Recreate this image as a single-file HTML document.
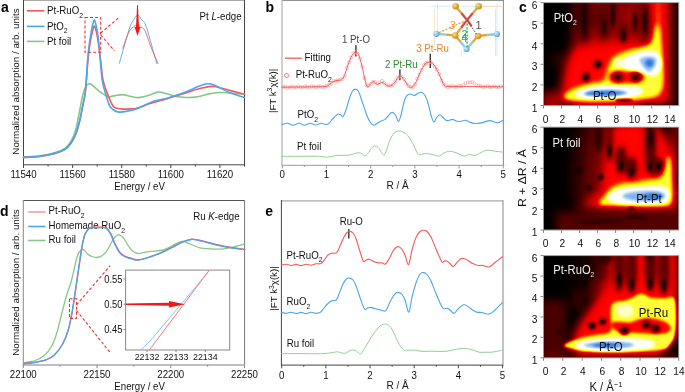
<!DOCTYPE html>
<html><head><meta charset="utf-8"><style>
html,body{margin:0;padding:0;background:#fff;}
body{width:685px;height:392px;overflow:hidden;position:relative;font-family:"Liberation Sans",sans-serif;}
canvas{position:absolute;}
svg{position:absolute;left:0;top:0;}
svg text{font-family:"Liberation Sans",sans-serif;}
</style></head><body>
<canvas id="h1" width="135" height="103" style="left:544px;top:3px;width:135px;height:103px;display:block;background:radial-gradient(ellipse 34% 9% at 47% 88%,#5a9ae6 0%,#fff 45%,#ff0 75%,rgba(255,0,0,0) 100%),radial-gradient(ellipse 16% 17% at 78% 58%,#7ab0ee 0%,#fff 45%,#ff0 78%,rgba(255,0,0,0) 100%),linear-gradient(to right,#000 0%,#200 12%,#b00 35%,#d00 75%,#e00 85%,#100 100%)"></canvas>
<canvas id="h2" width="135" height="103" style="left:544px;top:127px;width:135px;height:103px;display:block;background:radial-gradient(ellipse 28% 12% at 72% 67%,#5a9ae6 0%,#fff 45%,#ff0 75%,rgba(255,0,0,0) 100%),linear-gradient(to right,#000 0%,#100 20%,#600 40%,#d00 55%,#d00 85%,#400 100%)"></canvas>
<canvas id="h3" width="135" height="102" style="left:544px;top:256px;width:135px;height:102px;display:block;background:radial-gradient(ellipse 38% 9% at 45% 88%,#5a9ae6 0%,#fff 45%,#ff0 75%,rgba(255,0,0,0) 100%),radial-gradient(ellipse 24% 14% at 70% 52%,#ffffa0 0%,#ff0 70%,rgba(255,0,0,0) 100%),linear-gradient(to right,#000 0%,#200 25%,#c00 50%,#d00 100%)"></canvas>

<svg width="685" height="392" viewBox="0 0 685 392">
<g id="pa">
<line x1="23.5" y1="0.5" x2="244.5" y2="0.5" stroke="#aaa" stroke-width="1" />
<line x1="23.5" y1="0" x2="23.5" y2="165.3" stroke="#444" stroke-width="1" />
<line x1="244.5" y1="0" x2="244.5" y2="165.3" stroke="#444" stroke-width="1" />
<line x1="23" y1="164.8" x2="245" y2="164.8" stroke="#444" stroke-width="1" />
<line x1="23.5" y1="164.8" x2="23.5" y2="168" stroke="#444" stroke-width="1" />
<text x="0" y="0" transform="translate(23.5,178.4) scale(0.935,1)" font-size="10.37" text-anchor="middle" fill="#111" font-weight="normal"  >11540</text>
<line x1="48.056" y1="164.8" x2="48.056" y2="166.5" stroke="#444" stroke-width="1" />
<line x1="72.612" y1="164.8" x2="72.612" y2="168" stroke="#444" stroke-width="1" />
<text x="0" y="0" transform="translate(72.61,178.4) scale(0.935,1)" font-size="10.37" text-anchor="middle" fill="#111" font-weight="normal"  >11560</text>
<line x1="97.168" y1="164.8" x2="97.168" y2="166.5" stroke="#444" stroke-width="1" />
<line x1="121.724" y1="164.8" x2="121.724" y2="168" stroke="#444" stroke-width="1" />
<text x="0" y="0" transform="translate(121.72,178.4) scale(0.935,1)" font-size="10.37" text-anchor="middle" fill="#111" font-weight="normal"  >11580</text>
<line x1="146.28" y1="164.8" x2="146.28" y2="166.5" stroke="#444" stroke-width="1" />
<line x1="170.836" y1="164.8" x2="170.836" y2="168" stroke="#444" stroke-width="1" />
<text x="0" y="0" transform="translate(170.84,178.4) scale(0.935,1)" font-size="10.37" text-anchor="middle" fill="#111" font-weight="normal"  >11600</text>
<line x1="195.392" y1="164.8" x2="195.392" y2="166.5" stroke="#444" stroke-width="1" />
<line x1="219.948" y1="164.8" x2="219.948" y2="168" stroke="#444" stroke-width="1" />
<text x="0" y="0" transform="translate(219.95,178.4) scale(0.935,1)" font-size="10.37" text-anchor="middle" fill="#111" font-weight="normal"  >11620</text>
<line x1="244.504" y1="164.8" x2="244.504" y2="166.5" stroke="#444" stroke-width="1" />
<text x="0" y="0" transform="translate(139.6,189.7) scale(0.935,1)" font-size="10.37" text-anchor="middle" fill="#111" font-weight="normal"  >Energy / eV</text>
<text x="0" y="0" transform="translate(18.8,81.5) rotate(-90) scale(1,0.97)" font-size="9.8" text-anchor="middle" fill="#111" font-weight="normal"  >Normalized absorption / arb. units</text>
<text x="0" y="0" transform="translate(1,12.3) scale(0.935,1)" font-size="14.97" text-anchor="start" fill="#000" font-weight="bold"  >a</text>
<line x1="27" y1="10.8" x2="44.4" y2="10.8" stroke="#f55a5a" stroke-width="1.6" />
<text x="0" y="0" transform="translate(47,14) scale(0.935,1)" font-size="10.37" text-anchor="start" fill="#111" font-weight="normal"  >Pt-RuO<tspan font-size="7.27" dy="3.8">2</tspan></text>
<line x1="27" y1="26.4" x2="44.4" y2="26.4" stroke="#4aa6ee" stroke-width="1.6" />
<text x="0" y="0" transform="translate(47,29.6) scale(0.935,1)" font-size="10.37" text-anchor="start" fill="#111" font-weight="normal"  >PtO<tspan font-size="7.27" dy="3.8">2</tspan></text>
<line x1="27" y1="41.4" x2="44.4" y2="41.4" stroke="#86c886" stroke-width="1.6" />
<text x="0" y="0" transform="translate(47,44.6) scale(0.935,1)" font-size="10.37" text-anchor="start" fill="#111" font-weight="normal"  >Pt foil</text>
<text x="0" y="0" transform="translate(199.6,19.9) scale(0.935,1)" font-size="10.37" text-anchor="start" fill="#111" font-weight="normal"  >Pt <tspan font-style="italic">L</tspan>-edge</text>
<path d="M23.50,157.00 C26.25,156.82 34.70,156.63 40.00,155.90 C45.30,155.17 51.15,153.83 55.30,152.60 C59.45,151.37 62.35,150.27 64.90,148.50 C67.45,146.73 68.85,144.92 70.60,142.00 C72.35,139.08 74.13,135.00 75.40,131.00 C76.67,127.00 77.40,121.83 78.20,118.00 C79.00,114.17 79.48,111.67 80.20,108.00 C80.92,104.33 81.70,99.33 82.50,96.00 C83.30,92.67 84.17,89.92 85.00,88.00 C85.83,86.08 86.75,85.20 87.50,84.50 C88.25,83.80 88.75,83.75 89.50,83.80 C90.25,83.85 90.92,84.02 92.00,84.80 C93.08,85.58 94.50,87.22 96.00,88.50 C97.50,89.78 98.97,91.15 101.00,92.50 C103.03,93.85 105.87,96.08 108.20,96.60 C110.53,97.12 112.62,95.93 115.00,95.60 C117.38,95.27 120.00,94.50 122.50,94.60 C125.00,94.70 127.32,95.70 130.00,96.20 C132.68,96.70 135.60,97.70 138.60,97.60 C141.60,97.50 144.77,96.52 148.00,95.60 C151.23,94.68 155.17,92.50 158.00,92.10 C160.83,91.70 162.47,92.60 165.00,93.20 C167.53,93.80 170.20,95.03 173.20,95.70 C176.20,96.37 179.72,96.92 183.00,97.20 C186.28,97.48 190.07,97.57 192.90,97.40 C195.73,97.23 197.33,96.78 200.00,96.20 C202.67,95.62 206.23,94.48 208.90,93.90 C211.57,93.32 213.62,92.93 216.00,92.70 C218.38,92.47 220.53,92.42 223.20,92.50 C225.87,92.58 228.45,92.90 232.00,93.20 C235.55,93.50 242.42,94.12 244.50,94.30" fill="none" stroke="#86c886" stroke-width="1.6" stroke-linejoin="round" stroke-linecap="round" />
<path d="M23.50,157.60 C26.25,157.42 34.70,157.20 40.00,156.50 C45.30,155.80 51.15,154.55 55.30,153.40 C59.45,152.25 62.35,151.20 64.90,149.60 C67.45,148.00 68.85,146.18 70.60,143.80 C72.35,141.42 73.97,138.77 75.40,135.30 C76.83,131.83 78.03,127.55 79.20,123.00 C80.37,118.45 81.35,113.33 82.40,108.00 C83.45,102.67 84.60,98.67 85.50,91.00 C86.40,83.33 87.13,69.33 87.80,62.00 C88.47,54.67 88.93,51.17 89.50,47.00 C90.07,42.83 90.63,39.92 91.20,37.00 C91.77,34.08 92.38,31.33 92.90,29.50 C93.42,27.67 93.82,26.00 94.30,26.00 C94.78,26.00 95.25,27.50 95.80,29.50 C96.35,31.50 97.02,34.58 97.60,38.00 C98.18,41.42 98.77,46.00 99.30,50.00 C99.83,54.00 100.18,57.00 100.80,62.00 C101.42,67.00 102.00,74.98 103.00,80.00 C104.00,85.02 105.18,87.85 106.80,92.10 C108.42,96.35 111.00,102.80 112.70,105.50 C114.40,108.20 115.37,107.70 117.00,108.30 C118.63,108.90 120.33,109.00 122.50,109.10 C124.67,109.20 127.62,109.05 130.00,108.90 C132.38,108.75 133.58,109.06 136.80,108.20 C140.02,107.34 144.12,105.38 149.30,103.75 C154.48,102.12 161.83,100.19 167.90,98.40 C173.97,96.61 180.68,94.57 185.70,93.00 C190.72,91.43 193.68,90.10 198.00,89.00 C202.32,87.90 208.27,86.70 211.60,86.40 C214.93,86.10 215.47,86.68 218.00,87.20 C220.53,87.72 223.97,88.73 226.80,89.50 C229.63,90.27 232.05,91.00 235.00,91.80 C237.95,92.60 242.92,93.88 244.50,94.30" fill="none" stroke="#f55a5a" stroke-width="1.6" stroke-linejoin="round" stroke-linecap="round" />
<path d="M23.50,157.30 C26.25,157.13 34.70,157.00 40.00,156.30 C45.30,155.60 51.15,154.27 55.30,153.10 C59.45,151.93 62.35,150.90 64.90,149.30 C67.45,147.70 68.85,145.90 70.60,143.50 C72.35,141.10 73.97,138.40 75.40,134.90 C76.83,131.40 78.03,127.12 79.20,122.50 C80.37,117.88 81.35,112.62 82.40,107.20 C83.45,101.78 84.63,97.87 85.50,90.00 C86.37,82.13 86.98,67.50 87.60,60.00 C88.22,52.50 88.67,49.17 89.20,45.00 C89.73,40.83 90.23,38.33 90.80,35.00 C91.37,31.67 92.02,27.53 92.60,25.00 C93.18,22.47 93.73,19.80 94.30,19.80 C94.87,19.80 95.42,22.47 96.00,25.00 C96.58,27.53 97.27,31.33 97.80,35.00 C98.33,38.67 98.78,42.83 99.20,47.00 C99.62,51.17 99.80,54.50 100.30,60.00 C100.80,65.50 101.48,74.93 102.20,80.00 C102.92,85.07 103.45,86.30 104.60,90.40 C105.75,94.50 107.70,101.42 109.10,104.60 C110.50,107.78 111.37,108.25 113.00,109.50 C114.63,110.75 116.40,111.85 118.90,112.10 C121.40,112.35 124.72,111.65 128.00,111.00 C131.28,110.35 134.45,109.77 138.60,108.20 C142.75,106.63 148.02,103.32 152.90,101.60 C157.78,99.88 162.43,99.48 167.90,97.90 C173.37,96.32 180.68,94.00 185.70,92.10 C190.72,90.20 194.28,87.89 198.00,86.50 C201.72,85.11 205.33,84.00 208.00,83.75 C210.67,83.50 211.77,84.19 214.00,85.00 C216.23,85.81 218.40,87.18 221.40,88.60 C224.40,90.02 228.15,92.02 232.00,93.50 C235.85,94.98 242.42,96.83 244.50,97.50" fill="none" stroke="#4aa6ee" stroke-width="1.6" stroke-linejoin="round" stroke-linecap="round" />
<rect x="85" y="17.5" width="15.7" height="34.8" fill="none" stroke="#f03030" stroke-width="1.1" stroke-dasharray="3,2"/>
<line x1="100.7" y1="33" x2="119" y2="17.5" stroke="#f03030" stroke-width="1.1" stroke-dasharray="3,2"/>
<line x1="100.7" y1="35" x2="114.5" y2="50.7" stroke="#f03030" stroke-width="1.1" stroke-dasharray="3,2"/>
<path d="M119.30,63.40 C120.08,60.67 122.28,52.90 124.00,47.00 C125.72,41.10 128.07,32.42 129.60,28.00 C131.13,23.58 131.85,22.63 133.20,20.50 C134.55,18.37 136.32,15.37 137.70,15.20 C139.08,15.03 140.17,17.87 141.50,19.50 C142.83,21.13 144.12,21.08 145.70,25.00 C147.28,28.92 149.15,36.60 151.00,43.00 C152.85,49.40 155.83,60.00 156.80,63.40" fill="none" stroke="#4aa6ee" stroke-width="0.9" stroke-linejoin="round" stroke-linecap="round" />
<path d="M122.90,48.20 C123.50,46.50 125.23,41.12 126.50,38.00 C127.77,34.88 128.78,31.67 130.50,29.50 C132.22,27.33 135.13,25.42 136.80,25.00 C138.47,24.58 139.17,26.10 140.50,27.00 C141.83,27.90 143.05,27.07 144.80,30.40 C146.55,33.73 148.82,41.50 151.00,47.00 C153.18,52.50 156.75,60.67 157.90,63.40" fill="none" stroke="#f55a5a" stroke-width="0.9" stroke-linejoin="round" stroke-linecap="round" />
<path d="M137.1,5 L137.9,5 L139,27 L140.5,27 L137.5,35.7 L134.5,27 L136,27 Z" fill="#f01818"/>
</g>
<g id="pb">
<line x1="282" y1="0.4" x2="503.8" y2="0.4" stroke="#777" stroke-width="0.9" />
<line x1="282" y1="0" x2="282" y2="165.6" stroke="#bbb" stroke-width="1.4" />
<line x1="503.4" y1="0" x2="503.4" y2="165.8" stroke="#888" stroke-width="1" />
<line x1="281.5" y1="165.3" x2="504.3" y2="165.3" stroke="#999" stroke-width="1" />
<line x1="282.3" y1="165.3" x2="282.3" y2="168.5" stroke="#999" stroke-width="1" />
<text x="0" y="0" transform="translate(282.3,178.4) scale(0.935,1)" font-size="10.37" text-anchor="middle" fill="#111" font-weight="normal"  >0</text>
<line x1="304.40000000000003" y1="165.3" x2="304.40000000000003" y2="167" stroke="#999" stroke-width="1" />
<line x1="326.5" y1="165.3" x2="326.5" y2="168.5" stroke="#999" stroke-width="1" />
<text x="0" y="0" transform="translate(326.5,178.4) scale(0.935,1)" font-size="10.37" text-anchor="middle" fill="#111" font-weight="normal"  >1</text>
<line x1="348.6" y1="165.3" x2="348.6" y2="167" stroke="#999" stroke-width="1" />
<line x1="370.70000000000005" y1="165.3" x2="370.70000000000005" y2="168.5" stroke="#999" stroke-width="1" />
<text x="0" y="0" transform="translate(370.7,178.4) scale(0.935,1)" font-size="10.37" text-anchor="middle" fill="#111" font-weight="normal"  >2</text>
<line x1="392.8" y1="165.3" x2="392.8" y2="167" stroke="#999" stroke-width="1" />
<line x1="414.90000000000003" y1="165.3" x2="414.90000000000003" y2="168.5" stroke="#999" stroke-width="1" />
<text x="0" y="0" transform="translate(414.9,178.4) scale(0.935,1)" font-size="10.37" text-anchor="middle" fill="#111" font-weight="normal"  >3</text>
<line x1="437.0" y1="165.3" x2="437.0" y2="167" stroke="#999" stroke-width="1" />
<line x1="459.1" y1="165.3" x2="459.1" y2="168.5" stroke="#999" stroke-width="1" />
<text x="0" y="0" transform="translate(459.1,178.4) scale(0.935,1)" font-size="10.37" text-anchor="middle" fill="#111" font-weight="normal"  >4</text>
<line x1="481.20000000000005" y1="165.3" x2="481.20000000000005" y2="167" stroke="#999" stroke-width="1" />
<line x1="503.3" y1="165.3" x2="503.3" y2="168.5" stroke="#999" stroke-width="1" />
<text x="0" y="0" transform="translate(503.3,178.4) scale(0.935,1)" font-size="10.37" text-anchor="middle" fill="#111" font-weight="normal"  >5</text>
<text x="0" y="0" transform="translate(386.5,188.5) scale(0.935,1)" font-size="10.70" text-anchor="start" fill="#111" font-weight="normal"  >R / Å</text>
<text x="0" y="0" transform="translate(275.8,90.9) rotate(-90) scale(1,0.97)" font-size="9.7" text-anchor="middle" fill="#111" font-weight="normal"  >|FT k<tspan font-size="6.8" dy="-3.5">3</tspan><tspan dy="3.5">χ(k)|</tspan></text>
<text x="0" y="0" transform="translate(265.6,12) scale(0.935,1)" font-size="14.97" text-anchor="start" fill="#000" font-weight="bold"  >b</text>
<line x1="285" y1="58.2" x2="301.8" y2="58.2" stroke="#f55a5a" stroke-width="1.3" />
<text x="0" y="0" transform="translate(304.6,61.3) scale(0.935,1)" font-size="10.37" text-anchor="start" fill="#111" font-weight="normal"  >Fitting</text>
<circle cx="286.6" cy="75.5" r="2" fill="none" stroke="#f55a5a" stroke-width="0.8"/>
<text x="0" y="0" transform="translate(295.7,77.9) scale(0.935,1)" font-size="10.37" text-anchor="start" fill="#111" font-weight="normal"  >Pt-RuO<tspan font-size="7.27" dy="3.8">2</tspan></text>
<text x="0" y="0" transform="translate(297.5,117.7) scale(0.935,1)" font-size="10.37" text-anchor="start" fill="#111" font-weight="normal"  >PtO<tspan font-size="7.27" dy="3.8">2</tspan></text>
<text x="0" y="0" transform="translate(297.1,149.9) scale(0.935,1)" font-size="10.37" text-anchor="start" fill="#111" font-weight="normal"  >Pt foil</text>
<text x="0" y="0" transform="translate(356,42.9) scale(0.935,1)" font-size="10.37" text-anchor="middle" fill="#444" font-weight="normal"  >1 Pt-O</text>
<line x1="355.9" y1="45.2" x2="355.9" y2="56.4" stroke="#333" stroke-width="1.4" />
<text x="0" y="0" transform="translate(401.3,68.1) scale(0.935,1)" font-size="10.37" text-anchor="middle" fill="#2e8b2e" font-weight="normal"  >2 Pt-Ru</text>
<line x1="399.9" y1="69.4" x2="399.9" y2="80.2" stroke="#333" stroke-width="1.4" />
<text x="0" y="0" transform="translate(432.6,51.8) scale(0.935,1)" font-size="10.37" text-anchor="middle" fill="#f0882a" font-weight="normal"  >3 Pt-Ru</text>
<line x1="430.3" y1="53.7" x2="430.3" y2="68.1" stroke="#333" stroke-width="1.4" />
<g fill="none" stroke="#f6a0a0" stroke-width="0.7"><circle cx="283.0" cy="87.1" r="1.55"/><circle cx="285.2" cy="86.7" r="1.55"/><circle cx="287.4" cy="87.7" r="1.55"/><circle cx="289.6" cy="87.2" r="1.55"/><circle cx="291.8" cy="86.5" r="1.55"/><circle cx="294.0" cy="87.5" r="1.55"/><circle cx="296.2" cy="87.3" r="1.55"/><circle cx="298.4" cy="86.4" r="1.55"/><circle cx="300.6" cy="87.2" r="1.55"/><circle cx="302.8" cy="87.4" r="1.55"/><circle cx="305.0" cy="86.4" r="1.55"/><circle cx="307.2" cy="86.9" r="1.55"/><circle cx="309.4" cy="87.4" r="1.55"/><circle cx="311.6" cy="86.4" r="1.55"/><circle cx="313.8" cy="86.6" r="1.55"/><circle cx="316.0" cy="87.4" r="1.55"/><circle cx="318.2" cy="86.5" r="1.55"/><circle cx="320.4" cy="86.4" r="1.55"/><circle cx="322.6" cy="87.3" r="1.55"/><circle cx="324.8" cy="86.5" r="1.55"/><circle cx="327.0" cy="85.6" r="1.55"/><circle cx="329.2" cy="85.1" r="1.55"/><circle cx="331.4" cy="83.1" r="1.55"/><circle cx="333.6" cy="80.8" r="1.55"/><circle cx="335.8" cy="81.1" r="1.55"/><circle cx="338.0" cy="80.7" r="1.55"/><circle cx="340.2" cy="79.6" r="1.55"/><circle cx="342.4" cy="79.1" r="1.55"/><circle cx="344.6" cy="75.7" r="1.55"/><circle cx="346.8" cy="68.0" r="1.55"/><circle cx="349.0" cy="62.3" r="1.55"/><circle cx="351.2" cy="57.6" r="1.55"/><circle cx="353.4" cy="53.2" r="1.55"/><circle cx="355.6" cy="52.2" r="1.55"/><circle cx="357.8" cy="54.0" r="1.55"/><circle cx="360.0" cy="58.4" r="1.55"/><circle cx="362.2" cy="66.4" r="1.55"/><circle cx="364.4" cy="78.0" r="1.55"/><circle cx="366.6" cy="85.4" r="1.55"/><circle cx="368.8" cy="85.8" r="1.55"/><circle cx="371.0" cy="83.8" r="1.55"/><circle cx="373.2" cy="81.8" r="1.55"/><circle cx="375.4" cy="82.0" r="1.55"/><circle cx="377.6" cy="84.0" r="1.55"/><circle cx="379.8" cy="82.5" r="1.55"/><circle cx="382.0" cy="80.8" r="1.55"/><circle cx="384.2" cy="82.8" r="1.55"/><circle cx="386.4" cy="85.2" r="1.55"/><circle cx="388.6" cy="85.5" r="1.55"/><circle cx="390.8" cy="85.8" r="1.55"/><circle cx="393.0" cy="84.9" r="1.55"/><circle cx="395.2" cy="81.4" r="1.55"/><circle cx="397.4" cy="78.1" r="1.55"/><circle cx="399.6" cy="76.4" r="1.55"/><circle cx="401.8" cy="76.4" r="1.55"/><circle cx="404.0" cy="79.1" r="1.55"/><circle cx="406.2" cy="83.4" r="1.55"/><circle cx="408.4" cy="85.9" r="1.55"/><circle cx="410.6" cy="86.9" r="1.55"/><circle cx="412.8" cy="87.1" r="1.55"/><circle cx="415.0" cy="84.2" r="1.55"/><circle cx="417.2" cy="78.8" r="1.55"/><circle cx="419.4" cy="74.5" r="1.55"/><circle cx="421.6" cy="70.1" r="1.55"/><circle cx="423.8" cy="65.1" r="1.55"/><circle cx="426.0" cy="63.2" r="1.55"/><circle cx="428.2" cy="62.9" r="1.55"/><circle cx="430.4" cy="62.0" r="1.55"/><circle cx="432.6" cy="63.4" r="1.55"/><circle cx="434.8" cy="66.7" r="1.55"/><circle cx="437.0" cy="69.7" r="1.55"/><circle cx="439.2" cy="74.1" r="1.55"/><circle cx="441.4" cy="80.1" r="1.55"/><circle cx="443.6" cy="84.1" r="1.55"/><circle cx="445.8" cy="86.1" r="1.55"/><circle cx="448.0" cy="87.0" r="1.55"/><circle cx="450.2" cy="86.5" r="1.55"/><circle cx="452.4" cy="85.9" r="1.55"/><circle cx="454.6" cy="86.9" r="1.55"/><circle cx="456.8" cy="86.7" r="1.55"/><circle cx="459.0" cy="85.7" r="1.55"/><circle cx="461.2" cy="86.0" r="1.55"/><circle cx="463.4" cy="85.3" r="1.55"/><circle cx="465.6" cy="83.1" r="1.55"/><circle cx="467.8" cy="82.5" r="1.55"/><circle cx="470.0" cy="82.5" r="1.55"/><circle cx="472.2" cy="82.1" r="1.55"/><circle cx="474.4" cy="83.5" r="1.55"/><circle cx="476.6" cy="85.6" r="1.55"/><circle cx="478.8" cy="85.6" r="1.55"/><circle cx="481.0" cy="86.1" r="1.55"/><circle cx="483.2" cy="87.2" r="1.55"/><circle cx="485.4" cy="86.6" r="1.55"/><circle cx="487.6" cy="86.2" r="1.55"/><circle cx="489.8" cy="87.2" r="1.55"/><circle cx="492.0" cy="86.8" r="1.55"/><circle cx="494.2" cy="86.2" r="1.55"/><circle cx="496.4" cy="87.1" r="1.55"/><circle cx="498.6" cy="87.1" r="1.55"/><circle cx="500.8" cy="86.2" r="1.55"/></g>
<path d="M282.00,87.20 C285.00,87.17 294.50,87.07 300.00,87.00 C305.50,86.93 310.67,86.90 315.00,86.80 C319.33,86.70 323.50,86.87 326.00,86.40 C328.50,85.93 328.67,84.87 330.00,84.00 C331.33,83.13 332.67,81.80 334.00,81.20 C335.33,80.60 336.73,80.67 338.00,80.40 C339.27,80.13 340.52,80.42 341.60,79.60 C342.68,78.78 343.43,77.93 344.50,75.50 C345.57,73.07 346.75,68.33 348.00,65.00 C349.25,61.67 350.78,57.58 352.00,55.50 C353.22,53.42 354.22,52.67 355.30,52.50 C356.38,52.33 357.38,52.25 358.50,54.50 C359.62,56.75 360.92,61.75 362.00,66.00 C363.08,70.25 364.08,76.48 365.00,80.00 C365.92,83.52 366.67,86.35 367.50,87.10 C368.33,87.85 369.10,85.38 370.00,84.50 C370.90,83.62 371.98,82.05 372.90,81.80 C373.82,81.55 374.77,82.55 375.50,83.00 C376.23,83.45 376.55,84.47 377.30,84.50 C378.05,84.53 379.10,83.52 380.00,83.20 C380.90,82.88 381.70,82.33 382.70,82.60 C383.70,82.87 384.95,84.20 386.00,84.80 C387.05,85.40 388.00,86.13 389.00,86.20 C390.00,86.27 391.00,85.90 392.00,85.20 C393.00,84.50 393.68,83.58 395.00,82.00 C396.32,80.42 398.40,76.12 399.90,75.70 C401.40,75.28 402.65,77.87 404.00,79.50 C405.35,81.13 406.78,84.18 408.00,85.50 C409.22,86.82 410.13,87.65 411.30,87.40 C412.47,87.15 413.55,86.40 415.00,84.00 C416.45,81.60 418.33,76.33 420.00,73.00 C421.67,69.67 423.38,65.77 425.00,64.00 C426.62,62.23 428.20,62.23 429.70,62.40 C431.20,62.57 432.45,63.07 434.00,65.00 C435.55,66.93 437.25,70.58 439.00,74.00 C440.75,77.42 442.67,83.43 444.50,85.50 C446.33,87.57 445.75,86.22 450.00,86.40 C454.25,86.58 461.17,86.53 470.00,86.60 C478.83,86.67 497.50,86.77 503.00,86.80" fill="none" stroke="#f55a5a" stroke-width="1.0" stroke-linejoin="round" stroke-linecap="round" />
<path d="M282.00,124.70 C282.92,124.45 285.67,123.12 287.50,123.20 C289.33,123.28 291.08,125.18 293.00,125.20 C294.92,125.22 297.08,123.30 299.00,123.30 C300.92,123.30 302.67,125.22 304.50,125.20 C306.33,125.18 308.17,123.23 310.00,123.20 C311.83,123.17 313.67,125.00 315.50,125.00 C317.33,125.00 319.25,123.28 321.00,123.20 C322.75,123.12 324.67,124.47 326.00,124.50 C327.33,124.53 327.83,124.40 329.00,123.40 C330.17,122.40 331.53,120.03 333.00,118.50 C334.47,116.97 336.55,114.82 337.80,114.20 C339.05,113.58 339.63,114.43 340.50,114.80 C341.37,115.17 342.08,117.20 343.00,116.40 C343.92,115.60 344.92,113.07 346.00,110.00 C347.08,106.93 348.42,101.17 349.50,98.00 C350.58,94.83 351.53,92.48 352.50,91.00 C353.47,89.52 354.30,89.02 355.30,89.10 C356.30,89.18 357.38,89.52 358.50,91.50 C359.62,93.48 360.75,97.42 362.00,101.00 C363.25,104.58 364.67,109.50 366.00,113.00 C367.33,116.50 368.72,119.97 370.00,122.00 C371.28,124.03 372.53,124.95 373.70,125.20 C374.87,125.45 375.83,124.17 377.00,123.50 C378.17,122.83 379.35,121.88 380.70,121.20 C382.05,120.52 383.80,120.35 385.10,119.40 C386.40,118.45 387.33,116.67 388.50,115.50 C389.67,114.33 390.93,112.48 392.10,112.40 C393.27,112.32 394.45,113.48 395.50,115.00 C396.55,116.52 397.48,121.50 398.40,121.50 C399.32,121.50 400.07,118.25 401.00,115.00 C401.93,111.75 403.07,105.20 404.00,102.00 C404.93,98.80 405.58,97.13 406.60,95.80 C407.62,94.47 408.78,94.07 410.10,94.00 C411.42,93.93 413.18,95.52 414.50,95.40 C415.82,95.28 416.83,93.82 418.00,93.30 C419.17,92.78 420.33,91.93 421.50,92.30 C422.67,92.67 423.92,93.72 425.00,95.50 C426.08,97.28 427.00,99.75 428.00,103.00 C429.00,106.25 430.03,111.83 431.00,115.00 C431.97,118.17 432.80,121.67 433.80,122.00 C434.80,122.33 435.98,118.22 437.00,117.00 C438.02,115.78 438.90,114.62 439.90,114.70 C440.90,114.78 441.83,116.52 443.00,117.50 C444.17,118.48 445.37,120.28 446.90,120.60 C448.43,120.92 450.77,119.40 452.20,119.40 C453.63,119.40 454.33,120.25 455.50,120.60 C456.67,120.95 457.57,121.55 459.20,121.50 C460.83,121.45 463.50,120.18 465.30,120.30 C467.10,120.42 468.53,121.68 470.00,122.20 C471.47,122.72 472.25,123.28 474.10,123.40 C475.95,123.52 478.47,123.37 481.10,122.90 C483.73,122.43 487.27,120.60 489.90,120.60 C492.53,120.60 494.72,122.95 496.90,122.90 C499.08,122.85 501.98,120.73 503.00,120.30" fill="none" stroke="#4aa6ee" stroke-width="1.1" stroke-linejoin="round" stroke-linecap="round" />
<path d="M282.00,156.30 C285.00,156.30 294.50,156.32 300.00,156.30 C305.50,156.28 311.50,156.15 315.00,156.20 C318.50,156.25 318.95,156.43 321.00,156.60 C323.05,156.77 325.47,157.27 327.30,157.20 C329.13,157.13 330.25,156.50 332.00,156.20 C333.75,155.90 335.80,155.55 337.80,155.40 C339.80,155.25 341.97,155.37 344.00,155.30 C346.03,155.23 348.17,155.30 350.00,155.00 C351.83,154.70 353.53,153.87 355.00,153.50 C356.47,153.13 357.63,152.75 358.80,152.80 C359.97,152.85 360.97,153.28 362.00,153.80 C363.03,154.32 363.92,156.12 365.00,155.90 C366.08,155.68 367.33,153.88 368.50,152.50 C369.67,151.12 370.83,148.67 372.00,147.60 C373.17,146.53 374.33,145.95 375.50,146.10 C376.67,146.25 377.65,147.02 379.00,148.50 C380.35,149.98 382.35,154.75 383.60,155.00 C384.85,155.25 385.43,152.50 386.50,150.00 C387.57,147.50 388.75,142.83 390.00,140.00 C391.25,137.17 392.50,134.50 394.00,133.00 C395.50,131.50 397.33,131.07 399.00,131.00 C400.67,130.93 402.33,131.60 404.00,132.60 C405.67,133.60 407.33,134.77 409.00,137.00 C410.67,139.23 412.38,143.07 414.00,146.00 C415.62,148.93 416.93,153.35 418.70,154.60 C420.47,155.85 422.33,153.53 424.60,153.50 C426.87,153.47 429.93,153.97 432.30,154.40 C434.67,154.83 436.85,156.33 438.80,156.10 C440.75,155.87 442.17,153.80 444.00,153.00 C445.83,152.20 447.80,151.35 449.80,151.30 C451.80,151.25 453.63,151.90 456.00,152.70 C458.37,153.50 461.75,155.82 464.00,156.10 C466.25,156.38 467.67,154.50 469.50,154.40 C471.33,154.30 473.08,155.82 475.00,155.50 C476.92,155.18 479.00,153.38 481.00,152.50 C483.00,151.62 484.53,150.40 487.00,150.20 C489.47,150.00 493.13,150.97 495.80,151.30 C498.47,151.63 501.80,152.05 503.00,152.20" fill="none" stroke="#8fd08f" stroke-width="1.0" stroke-linejoin="round" stroke-linecap="round" />
</g>
<g id="pd">
<line x1="23.3" y1="200.5" x2="244.6" y2="200.5" stroke="#555" stroke-width="1" />
<line x1="23.3" y1="200" x2="23.3" y2="365.5" stroke="#888" stroke-width="1" />
<line x1="244.6" y1="200" x2="244.6" y2="365.5" stroke="#777" stroke-width="1" />
<line x1="23" y1="365" x2="245" y2="365" stroke="#aaa" stroke-width="1.3" />
<line x1="23.3" y1="365" x2="23.3" y2="368.2" stroke="#888" stroke-width="1" />
<text x="0" y="0" transform="translate(23.3,378.4) scale(0.935,1)" font-size="10.37" text-anchor="middle" fill="#111" font-weight="normal"  >22100</text>
<line x1="60.167500000000004" y1="365" x2="60.167500000000004" y2="366.7" stroke="#888" stroke-width="1" />
<line x1="97.035" y1="365" x2="97.035" y2="368.2" stroke="#888" stroke-width="1" />
<text x="0" y="0" transform="translate(97.03,378.4) scale(0.935,1)" font-size="10.37" text-anchor="middle" fill="#111" font-weight="normal"  >22150</text>
<line x1="133.9025" y1="365" x2="133.9025" y2="366.7" stroke="#888" stroke-width="1" />
<line x1="170.77" y1="365" x2="170.77" y2="368.2" stroke="#888" stroke-width="1" />
<text x="0" y="0" transform="translate(170.77,378.4) scale(0.935,1)" font-size="10.37" text-anchor="middle" fill="#111" font-weight="normal"  >22200</text>
<line x1="207.6375" y1="365" x2="207.6375" y2="366.7" stroke="#888" stroke-width="1" />
<line x1="244.505" y1="365" x2="244.505" y2="368.2" stroke="#888" stroke-width="1" />
<text x="0" y="0" transform="translate(244.5,378.4) scale(0.935,1)" font-size="10.37" text-anchor="middle" fill="#111" font-weight="normal"  >22250</text>
<text x="0" y="0" transform="translate(139.6,389.5) scale(0.935,1)" font-size="10.37" text-anchor="middle" fill="#111" font-weight="normal"  >Energy / eV</text>
<text x="0" y="0" transform="translate(18.8,282.6) rotate(-90) scale(1,0.97)" font-size="9.8" text-anchor="middle" fill="#111" font-weight="normal"  >Normalized absorption / arb. units</text>
<text x="0" y="0" transform="translate(0,215.6) scale(0.935,1)" font-size="14.97" text-anchor="start" fill="#000" font-weight="bold"  >d</text>
<line x1="28.2" y1="212" x2="45.6" y2="212" stroke="#ff9aa0" stroke-width="1.6" />
<text x="0" y="0" transform="translate(48.6,214.3) scale(0.935,1)" font-size="10.37" text-anchor="start" fill="#111" font-weight="normal"  >Pt-RuO<tspan font-size="7.27" dy="3.8">2</tspan></text>
<line x1="28.2" y1="226.5" x2="45.6" y2="226.5" stroke="#4aa6ee" stroke-width="1.6" />
<text x="0" y="0" transform="translate(48.6,228.9) scale(0.935,1)" font-size="10.37" text-anchor="start" fill="#111" font-weight="normal"  >Homemade RuO<tspan font-size="7.27" dy="3.8">2</tspan></text>
<line x1="28.2" y1="240.5" x2="45.6" y2="240.5" stroke="#86c886" stroke-width="1.6" />
<text x="0" y="0" transform="translate(48.6,243.2) scale(0.935,1)" font-size="10.37" text-anchor="start" fill="#111" font-weight="normal"  >Ru foil</text>
<text x="0" y="0" transform="translate(193.3,219.7) scale(0.935,1)" font-size="10.37" text-anchor="start" fill="#111" font-weight="normal"  >Ru <tspan font-style="italic">K</tspan>-edge</text>
<path d="M23.50,362.60 C25.42,362.25 31.55,361.70 35.00,360.50 C38.45,359.30 41.50,357.65 44.20,355.40 C46.90,353.15 49.10,350.73 51.20,347.00 C53.30,343.27 54.92,339.08 56.80,333.00 C58.68,326.92 60.80,317.00 62.50,310.50 C64.20,304.00 65.60,298.67 67.00,294.00 C68.40,289.33 69.73,286.50 70.90,282.50 C72.07,278.50 73.12,273.75 74.00,270.00 C74.88,266.25 75.47,262.73 76.20,260.00 C76.93,257.27 77.43,255.42 78.40,253.60 C79.37,251.78 80.90,249.53 82.00,249.10 C83.10,248.67 83.97,250.10 85.00,251.00 C86.03,251.90 87.03,253.58 88.20,254.50 C89.37,255.42 90.52,256.00 92.00,256.50 C93.48,257.00 95.43,257.62 97.10,257.50 C98.77,257.38 100.52,256.75 102.00,255.80 C103.48,254.85 104.67,253.52 106.00,251.80 C107.33,250.08 108.80,247.58 110.00,245.50 C111.20,243.42 112.12,240.92 113.20,239.30 C114.28,237.68 115.45,236.55 116.50,235.80 C117.55,235.05 118.33,234.43 119.50,234.80 C120.67,235.17 122.17,236.37 123.50,238.00 C124.83,239.63 126.08,242.53 127.50,244.60 C128.92,246.67 130.27,248.92 132.00,250.40 C133.73,251.88 135.90,253.17 137.90,253.50 C139.90,253.83 141.82,252.75 144.00,252.40 C146.18,252.05 147.78,251.80 151.00,251.40 C154.22,251.00 159.80,250.90 163.30,250.00 C166.80,249.10 168.93,247.45 172.00,246.00 C175.07,244.55 178.70,241.63 181.70,241.30 C184.70,240.97 186.93,242.90 190.00,244.00 C193.07,245.10 196.77,247.10 200.10,247.90 C203.43,248.70 206.50,248.58 210.00,248.80 C213.50,249.02 218.10,249.30 221.10,249.20 C224.10,249.10 225.67,248.65 228.00,248.20 C230.33,247.75 232.35,247.22 235.10,246.50 C237.85,245.78 242.93,244.33 244.50,243.90" fill="none" stroke="#86c886" stroke-width="1.3" stroke-linejoin="round" stroke-linecap="round" />
<path d="M23.80,363.40 C25.72,363.18 31.62,362.70 35.30,362.10 C38.98,361.50 42.73,360.98 45.90,359.80 C49.07,358.62 51.48,357.67 54.30,355.00 C57.12,352.33 60.45,348.00 62.80,343.80 C65.15,339.60 66.77,335.42 68.40,329.80 C70.03,324.18 71.20,318.05 72.60,310.10 C74.00,302.15 75.60,290.18 76.80,282.10 C78.00,274.02 78.88,267.68 79.80,261.60 C80.72,255.52 81.55,249.77 82.30,245.60 C83.05,241.43 83.72,238.77 84.30,236.60 C84.88,234.43 84.95,234.00 85.80,232.60 C86.65,231.20 88.05,229.08 89.40,228.20 C90.75,227.32 92.08,227.47 93.90,227.30 C95.72,227.13 98.23,227.12 100.30,227.20 C102.37,227.28 104.55,226.73 106.30,227.80 C108.05,228.87 109.30,230.87 110.80,233.60 C112.30,236.33 113.65,240.93 115.30,244.20 C116.95,247.47 118.92,251.12 120.70,253.20 C122.48,255.28 124.40,255.90 126.00,256.70 C127.60,257.50 128.42,257.48 130.30,258.00 C132.18,258.52 134.38,259.88 137.30,259.80 C140.22,259.72 143.72,258.75 147.80,257.50 C151.88,256.25 157.72,254.03 161.80,252.30 C165.88,250.57 168.78,248.85 172.30,247.10 C175.82,245.35 179.68,243.13 182.90,241.80 C186.12,240.47 188.70,239.33 191.60,239.10 C194.50,238.87 197.38,239.82 200.30,240.40 C203.22,240.98 206.10,241.85 209.10,242.60 C212.10,243.35 215.08,244.17 218.30,244.90 C221.52,245.63 225.40,246.45 228.40,247.00 C231.40,247.55 233.57,247.82 236.30,248.20 C239.03,248.58 243.38,249.12 244.80,249.30" fill="none" stroke="#f55a5a" stroke-width="1.3" stroke-linejoin="round" stroke-linecap="round" />
<path d="M23.50,363.80 C25.42,363.58 31.32,363.10 35.00,362.50 C38.68,361.90 42.43,361.38 45.60,360.20 C48.77,359.02 51.18,358.07 54.00,355.40 C56.82,352.73 60.15,348.40 62.50,344.20 C64.85,340.00 66.47,335.82 68.10,330.20 C69.73,324.58 70.90,318.45 72.30,310.50 C73.70,302.55 75.30,290.58 76.50,282.50 C77.70,274.42 78.58,268.08 79.50,262.00 C80.42,255.92 81.25,250.17 82.00,246.00 C82.75,241.83 83.42,239.17 84.00,237.00 C84.58,234.83 84.65,234.40 85.50,233.00 C86.35,231.60 87.75,229.48 89.10,228.60 C90.45,227.72 91.78,227.87 93.60,227.70 C95.42,227.53 97.93,227.52 100.00,227.60 C102.07,227.68 104.25,227.13 106.00,228.20 C107.75,229.27 109.00,231.27 110.50,234.00 C112.00,236.73 113.35,241.33 115.00,244.60 C116.65,247.87 118.62,251.52 120.40,253.60 C122.18,255.68 124.10,256.30 125.70,257.10 C127.30,257.90 128.12,257.88 130.00,258.40 C131.88,258.92 134.08,260.28 137.00,260.20 C139.92,260.12 143.42,259.15 147.50,257.90 C151.58,256.65 157.42,254.43 161.50,252.70 C165.58,250.97 168.48,249.25 172.00,247.50 C175.52,245.75 179.38,243.53 182.60,242.20 C185.82,240.87 188.40,239.73 191.30,239.50 C194.20,239.27 197.08,240.22 200.00,240.80 C202.92,241.38 205.80,242.25 208.80,243.00 C211.80,243.75 214.78,244.57 218.00,245.30 C221.22,246.03 225.10,246.85 228.10,247.40 C231.10,247.95 233.27,248.22 236.00,248.60 C238.73,248.98 243.08,249.52 244.50,249.70" fill="none" stroke="#4aa6ee" stroke-width="1.3" stroke-linejoin="round" stroke-linecap="round" />
<rect x="69.5" y="298.7" width="7" height="19.7" fill="none" stroke="#f03030" stroke-width="1.1" stroke-dasharray="3,2"/>
<line x1="76.5" y1="305" x2="110.2" y2="265.6" stroke="#f03030" stroke-width="1.1" stroke-dasharray="3,2"/>
<line x1="76.5" y1="310.5" x2="110.2" y2="352.6" stroke="#f03030" stroke-width="1.1" stroke-dasharray="3,2"/>
<rect x="125.6" y="270.1" width="104.1" height="79.9" fill="#fff" stroke="#888" stroke-width="1"/>
<line x1="123.5" y1="279.1" x2="125.6" y2="279.1" stroke="#888" stroke-width="1" />
<text x="0" y="0" transform="translate(122.5,282.5) scale(0.935,1)" font-size="10.05" text-anchor="end" fill="#111" font-weight="normal"  >0.55</text>
<line x1="123.5" y1="304.2" x2="125.6" y2="304.2" stroke="#888" stroke-width="1" />
<text x="0" y="0" transform="translate(122.5,307.59999999999997) scale(0.935,1)" font-size="10.05" text-anchor="end" fill="#111" font-weight="normal"  >0.50</text>
<line x1="123.5" y1="329.4" x2="125.6" y2="329.4" stroke="#888" stroke-width="1" />
<text x="0" y="0" transform="translate(122.5,332.79999999999995) scale(0.935,1)" font-size="10.05" text-anchor="end" fill="#111" font-weight="normal"  >0.45</text>
<line x1="147" y1="350" x2="147" y2="352" stroke="#888" stroke-width="1" />
<text x="0" y="0" transform="translate(147,359.9) scale(0.935,1)" font-size="9.52" text-anchor="middle" fill="#111" font-weight="normal"  >22132</text>
<line x1="176" y1="350" x2="176" y2="352" stroke="#888" stroke-width="1" />
<text x="0" y="0" transform="translate(176,359.9) scale(0.935,1)" font-size="9.52" text-anchor="middle" fill="#111" font-weight="normal"  >22133</text>
<line x1="205.3" y1="350" x2="205.3" y2="352" stroke="#888" stroke-width="1" />
<text x="0" y="0" transform="translate(205.3,359.9) scale(0.935,1)" font-size="9.52" text-anchor="middle" fill="#111" font-weight="normal"  >22134</text>
<line x1="140.9" y1="350" x2="150.1" y2="341" stroke="#8cc8f5" stroke-width="1"/>
<line x1="150.1" y1="341" x2="209.8" y2="270.1" stroke="#8cc8f5" stroke-width="1"/>
<line x1="149.3" y1="350" x2="209.3" y2="270.1" stroke="#f57a7a" stroke-width="1"/>
<path d="M126,303.6 L169,302.8 L169,301 L185,304.3 L169,307.6 L169,305.8 L126,305 Z" fill="#f01818"/>
</g>
<g id="pe">
<line x1="281.4" y1="200.9" x2="503" y2="200.9" stroke="#a8a8a8" stroke-width="1.4" />
<line x1="281.4" y1="200" x2="281.4" y2="365.6" stroke="#444" stroke-width="1" />
<line x1="503" y1="200" x2="503" y2="366" stroke="#aaa" stroke-width="1.4" />
<line x1="281" y1="365.1" x2="503" y2="365.1" stroke="#444" stroke-width="1" />
<line x1="281.7" y1="365.1" x2="281.7" y2="368.3" stroke="#444" stroke-width="1" />
<text x="0" y="0" transform="translate(281.7,379) scale(0.935,1)" font-size="10.37" text-anchor="middle" fill="#111" font-weight="normal"  >0</text>
<line x1="303.78499999999997" y1="365.1" x2="303.78499999999997" y2="366.8" stroke="#444" stroke-width="1" />
<line x1="325.87" y1="365.1" x2="325.87" y2="368.3" stroke="#444" stroke-width="1" />
<text x="0" y="0" transform="translate(325.87,379) scale(0.935,1)" font-size="10.37" text-anchor="middle" fill="#111" font-weight="normal"  >1</text>
<line x1="347.955" y1="365.1" x2="347.955" y2="366.8" stroke="#444" stroke-width="1" />
<line x1="370.03999999999996" y1="365.1" x2="370.03999999999996" y2="368.3" stroke="#444" stroke-width="1" />
<text x="0" y="0" transform="translate(370.04,379) scale(0.935,1)" font-size="10.37" text-anchor="middle" fill="#111" font-weight="normal"  >2</text>
<line x1="392.125" y1="365.1" x2="392.125" y2="366.8" stroke="#444" stroke-width="1" />
<line x1="414.21" y1="365.1" x2="414.21" y2="368.3" stroke="#444" stroke-width="1" />
<text x="0" y="0" transform="translate(414.21,379) scale(0.935,1)" font-size="10.37" text-anchor="middle" fill="#111" font-weight="normal"  >3</text>
<line x1="436.29499999999996" y1="365.1" x2="436.29499999999996" y2="366.8" stroke="#444" stroke-width="1" />
<line x1="458.38" y1="365.1" x2="458.38" y2="368.3" stroke="#444" stroke-width="1" />
<text x="0" y="0" transform="translate(458.38,379) scale(0.935,1)" font-size="10.37" text-anchor="middle" fill="#111" font-weight="normal"  >4</text>
<line x1="480.46500000000003" y1="365.1" x2="480.46500000000003" y2="366.8" stroke="#444" stroke-width="1" />
<line x1="502.55" y1="365.1" x2="502.55" y2="368.3" stroke="#444" stroke-width="1" />
<text x="0" y="0" transform="translate(502.55,379) scale(0.935,1)" font-size="10.37" text-anchor="middle" fill="#111" font-weight="normal"  >5</text>
<text x="0" y="0" transform="translate(386.5,389.3) scale(0.935,1)" font-size="10.70" text-anchor="start" fill="#111" font-weight="normal"  >R / Å</text>
<text x="0" y="0" transform="translate(277.3,288.5) rotate(-90) scale(1,0.97)" font-size="9.7" text-anchor="middle" fill="#111" font-weight="normal"  >|FT k<tspan font-size="6.8" dy="-3.5">3</tspan><tspan dy="3.5">χ(k)|</tspan></text>
<text x="0" y="0" transform="translate(265.2,215.6) scale(0.935,1)" font-size="14.97" text-anchor="start" fill="#000" font-weight="bold"  >e</text>
<text x="0" y="0" transform="translate(351.3,225.3) scale(0.935,1)" font-size="10.37" text-anchor="middle" fill="#111" font-weight="normal"  >Ru-O</text>
<line x1="348.8" y1="229" x2="348.8" y2="238.6" stroke="#333" stroke-width="1.4" />
<text x="0" y="0" transform="translate(286.5,258.5) scale(0.935,1)" font-size="10.37" text-anchor="start" fill="#111" font-weight="normal"  >Pt-RuO<tspan font-size="7.27" dy="3.8">2</tspan></text>
<text x="0" y="0" transform="translate(286.6,305) scale(0.935,1)" font-size="10.37" text-anchor="start" fill="#111" font-weight="normal"  >RuO<tspan font-size="7.27" dy="3.8">2</tspan></text>
<text x="0" y="0" transform="translate(286.7,347.1) scale(0.935,1)" font-size="10.37" text-anchor="start" fill="#111" font-weight="normal"  >Ru foil</text>
<path d="M281.50,265.30 C282.25,265.12 284.42,264.17 286.00,264.20 C287.58,264.23 289.33,265.47 291.00,265.50 C292.67,265.53 294.33,264.38 296.00,264.40 C297.67,264.42 299.33,265.62 301.00,265.60 C302.67,265.58 304.33,264.37 306.00,264.30 C307.67,264.23 309.33,265.28 311.00,265.20 C312.67,265.12 314.33,264.08 316.00,263.80 C317.67,263.52 319.50,264.30 321.00,263.50 C322.50,262.70 323.83,260.42 325.00,259.00 C326.17,257.58 326.87,255.97 328.00,255.00 C329.13,254.03 330.35,253.58 331.80,253.20 C333.25,252.82 335.33,253.90 336.70,252.70 C338.07,251.50 338.78,248.62 340.00,246.00 C341.22,243.38 342.83,239.25 344.00,237.00 C345.17,234.75 346.00,233.43 347.00,232.50 C348.00,231.57 349.00,231.32 350.00,231.40 C351.00,231.48 352.00,231.82 353.00,233.00 C354.00,234.18 354.92,235.67 356.00,238.50 C357.08,241.33 358.28,246.25 359.50,250.00 C360.72,253.75 362.22,259.28 363.30,261.00 C364.38,262.72 364.98,260.60 366.00,260.30 C367.02,260.00 368.07,258.95 369.40,259.20 C370.73,259.45 372.40,261.18 374.00,261.80 C375.60,262.42 377.67,262.73 379.00,262.90 C380.33,263.07 380.95,262.60 382.00,262.80 C383.05,263.00 384.13,264.73 385.30,264.10 C386.47,263.47 387.72,261.18 389.00,259.00 C390.28,256.82 391.83,252.92 393.00,251.00 C394.17,249.08 395.02,248.22 396.00,247.50 C396.98,246.78 397.90,246.37 398.90,246.70 C399.90,247.03 400.98,248.12 402.00,249.50 C403.02,250.88 403.90,252.48 405.00,255.00 C406.10,257.52 407.43,265.43 408.60,264.60 C409.77,263.77 410.77,254.52 412.00,250.00 C413.23,245.48 414.67,240.58 416.00,237.50 C417.33,234.42 418.72,232.72 420.00,231.50 C421.28,230.28 422.53,230.20 423.70,230.20 C424.87,230.20 425.78,230.37 427.00,231.50 C428.22,232.63 429.50,234.08 431.00,237.00 C432.50,239.92 434.20,244.88 436.00,249.00 C437.80,253.12 440.47,259.65 441.80,261.70 C443.13,263.75 443.18,261.42 444.00,261.30 C444.82,261.18 445.70,260.63 446.70,261.00 C447.70,261.37 448.92,262.58 450.00,263.50 C451.08,264.42 452.03,266.67 453.20,266.50 C454.37,266.33 455.78,263.75 457.00,262.50 C458.22,261.25 459.38,259.67 460.50,259.00 C461.62,258.33 462.45,258.25 463.70,258.50 C464.95,258.75 466.62,259.72 468.00,260.50 C469.38,261.28 470.50,262.40 472.00,263.20 C473.50,264.00 475.17,264.92 477.00,265.30 C478.83,265.68 480.98,265.22 483.00,265.50 C485.02,265.78 487.10,267.50 489.10,267.00 C491.10,266.50 492.77,264.20 495.00,262.50 C497.23,260.80 501.25,257.75 502.50,256.80" fill="none" stroke="#f55a5a" stroke-width="1.1" stroke-linejoin="round" stroke-linecap="round" />
<path d="M281.50,312.30 C282.25,312.48 284.42,313.42 286.00,313.40 C287.58,313.38 289.33,312.18 291.00,312.20 C292.67,312.22 294.33,313.47 296.00,313.50 C297.67,313.53 299.33,312.38 301.00,312.40 C302.67,312.42 304.33,313.63 306.00,313.60 C307.67,313.57 309.33,312.23 311.00,312.20 C312.67,312.17 314.37,313.43 316.00,313.40 C317.63,313.37 319.47,312.90 320.80,312.00 C322.13,311.10 322.80,309.42 324.00,308.00 C325.20,306.58 326.78,304.68 328.00,303.50 C329.22,302.32 329.93,301.48 331.30,300.90 C332.67,300.32 334.92,301.15 336.20,300.00 C337.48,298.85 337.87,296.67 339.00,294.00 C340.13,291.33 341.75,286.50 343.00,284.00 C344.25,281.50 345.38,279.98 346.50,279.00 C347.62,278.02 348.62,277.93 349.70,278.10 C350.78,278.27 351.87,278.52 353.00,280.00 C354.13,281.48 355.25,283.83 356.50,287.00 C357.75,290.17 359.15,295.32 360.50,299.00 C361.85,302.68 363.43,307.60 364.60,309.10 C365.77,310.60 366.48,308.28 367.50,308.00 C368.52,307.72 369.45,307.27 370.70,307.40 C371.95,307.53 373.53,308.42 375.00,308.80 C376.47,309.18 377.73,309.35 379.50,309.70 C381.27,310.05 384.02,311.85 385.60,310.90 C387.18,309.95 387.77,306.40 389.00,304.00 C390.23,301.60 391.83,298.33 393.00,296.50 C394.17,294.67 395.00,293.67 396.00,293.00 C397.00,292.33 398.00,292.25 399.00,292.50 C400.00,292.75 401.00,293.25 402.00,294.50 C403.00,295.75 403.87,297.07 405.00,300.00 C406.13,302.93 407.63,312.60 408.80,312.10 C409.97,311.60 410.80,301.85 412.00,297.00 C413.20,292.15 414.67,286.83 416.00,283.00 C417.33,279.17 418.73,275.73 420.00,274.00 C421.27,272.27 422.43,272.52 423.60,272.60 C424.77,272.68 425.77,273.10 427.00,274.50 C428.23,275.90 429.50,277.83 431.00,281.00 C432.50,284.17 434.07,289.05 436.00,293.50 C437.93,297.95 440.70,305.23 442.60,307.70 C444.50,310.17 446.08,307.83 447.40,308.30 C448.72,308.77 449.40,309.65 450.50,310.50 C451.60,311.35 452.75,313.65 454.00,313.40 C455.25,313.15 456.42,310.43 458.00,309.00 C459.58,307.57 461.83,305.22 463.50,304.80 C465.17,304.38 466.58,305.72 468.00,306.50 C469.42,307.28 470.53,308.57 472.00,309.50 C473.47,310.43 475.13,311.60 476.80,312.10 C478.47,312.60 479.95,312.18 482.00,312.50 C484.05,312.82 486.93,314.42 489.10,314.00 C491.27,313.58 492.77,311.90 495.00,310.00 C497.23,308.10 501.25,303.83 502.50,302.60" fill="none" stroke="#4aa6ee" stroke-width="1.1" stroke-linejoin="round" stroke-linecap="round" />
<path d="M281.50,353.70 C284.58,353.68 294.42,353.58 300.00,353.60 C305.58,353.62 310.83,353.82 315.00,353.80 C319.17,353.78 322.33,353.67 325.00,353.50 C327.67,353.33 328.93,353.08 331.00,352.80 C333.07,352.52 335.73,351.80 337.40,351.80 C339.07,351.80 339.65,352.55 341.00,352.80 C342.35,353.05 344.17,353.60 345.50,353.30 C346.83,353.00 347.83,351.55 349.00,351.00 C350.17,350.45 351.25,350.00 352.50,350.00 C353.75,350.00 355.13,350.38 356.50,351.00 C357.87,351.62 359.12,354.53 360.70,353.70 C362.28,352.87 364.12,348.95 366.00,346.00 C367.88,343.05 370.00,339.00 372.00,336.00 C374.00,333.00 376.33,329.87 378.00,328.00 C379.67,326.13 380.77,325.45 382.00,324.80 C383.23,324.15 384.23,323.98 385.40,324.10 C386.57,324.22 387.73,324.35 389.00,325.50 C390.27,326.65 391.50,328.25 393.00,331.00 C394.50,333.75 396.28,338.88 398.00,342.00 C399.72,345.12 401.63,348.33 403.30,349.70 C404.97,351.07 406.15,350.12 408.00,350.20 C409.85,350.28 412.08,350.00 414.40,350.20 C416.72,350.40 419.30,351.23 421.90,351.40 C424.50,351.57 427.32,351.20 430.00,351.20 C432.68,351.20 435.22,351.40 438.00,351.40 C440.78,351.40 443.87,351.52 446.70,351.20 C449.53,350.88 452.78,349.92 455.00,349.50 C457.22,349.08 458.07,348.87 460.00,348.70 C461.93,348.53 464.60,348.32 466.60,348.50 C468.60,348.68 469.93,349.18 472.00,349.80 C474.07,350.42 476.83,351.80 479.00,352.20 C481.17,352.60 482.93,352.20 485.00,352.20 C487.07,352.20 489.40,352.35 491.40,352.20 C493.40,352.05 495.15,351.63 497.00,351.30 C498.85,350.97 501.58,350.38 502.50,350.20" fill="none" stroke="#8fd08f" stroke-width="1.0" stroke-linejoin="round" stroke-linecap="round" />
</g>
<g id="pc">
<text x="0" y="0" transform="translate(519,12.2) scale(0.935,1)" font-size="14.97" text-anchor="start" fill="#000" font-weight="bold"  >c</text>
<rect x="543.5" y="2.6" width="135.2" height="102.9" fill="none" stroke="#999" stroke-width="1"/>
<line x1="540.5" y1="105.5" x2="543.5" y2="105.5" stroke="#888" stroke-width="1" />
<text x="0" y="0" transform="translate(537.5,111.5) scale(0.935,1)" font-size="10.91" text-anchor="end" fill="#111" font-weight="normal"  >1</text>
<line x1="540.5" y1="84.92" x2="543.5" y2="84.92" stroke="#888" stroke-width="1" />
<text x="0" y="0" transform="translate(537.5,90.92) scale(0.935,1)" font-size="10.91" text-anchor="end" fill="#111" font-weight="normal"  >2</text>
<line x1="540.5" y1="64.34" x2="543.5" y2="64.34" stroke="#888" stroke-width="1" />
<text x="0" y="0" transform="translate(537.5,70.34) scale(0.935,1)" font-size="10.91" text-anchor="end" fill="#111" font-weight="normal"  >3</text>
<line x1="540.5" y1="43.75999999999999" x2="543.5" y2="43.75999999999999" stroke="#888" stroke-width="1" />
<text x="0" y="0" transform="translate(537.5,49.75999999999999) scale(0.935,1)" font-size="10.91" text-anchor="end" fill="#111" font-weight="normal"  >4</text>
<line x1="540.5" y1="23.179999999999993" x2="543.5" y2="23.179999999999993" stroke="#888" stroke-width="1" />
<text x="0" y="0" transform="translate(537.5,29.179999999999993) scale(0.935,1)" font-size="10.91" text-anchor="end" fill="#111" font-weight="normal"  >5</text>
<line x1="540.5" y1="2.5999999999999943" x2="543.5" y2="2.5999999999999943" stroke="#888" stroke-width="1" />
<text x="0" y="0" transform="translate(537.5,8.599999999999994) scale(0.935,1)" font-size="10.91" text-anchor="end" fill="#111" font-weight="normal"  >6</text>
<line x1="543.5" y1="105.5" x2="543.5" y2="108.5" stroke="#888" stroke-width="1" />
<text x="0" y="0" transform="translate(545.5,122.8) scale(0.935,1)" font-size="10.91" text-anchor="middle" fill="#111" font-weight="normal"  >0</text>
<line x1="561.5266666666666" y1="105.5" x2="561.5266666666666" y2="108.5" stroke="#888" stroke-width="1" />
<text x="0" y="0" transform="translate(562.33,122.8) scale(0.935,1)" font-size="10.91" text-anchor="middle" fill="#111" font-weight="normal"  >2</text>
<line x1="579.5533333333333" y1="105.5" x2="579.5533333333333" y2="108.5" stroke="#888" stroke-width="1" />
<text x="0" y="0" transform="translate(580.35,122.8) scale(0.935,1)" font-size="10.91" text-anchor="middle" fill="#111" font-weight="normal"  >4</text>
<line x1="597.58" y1="105.5" x2="597.58" y2="108.5" stroke="#888" stroke-width="1" />
<text x="0" y="0" transform="translate(598.38,122.8) scale(0.935,1)" font-size="10.91" text-anchor="middle" fill="#111" font-weight="normal"  >6</text>
<line x1="615.6066666666667" y1="105.5" x2="615.6066666666667" y2="108.5" stroke="#888" stroke-width="1" />
<text x="0" y="0" transform="translate(616.41,122.8) scale(0.935,1)" font-size="10.91" text-anchor="middle" fill="#111" font-weight="normal"  >8</text>
<line x1="633.6333333333333" y1="105.5" x2="633.6333333333333" y2="108.5" stroke="#888" stroke-width="1" />
<text x="0" y="0" transform="translate(634.43,122.8) scale(0.935,1)" font-size="10.91" text-anchor="middle" fill="#111" font-weight="normal"  >10</text>
<line x1="651.66" y1="105.5" x2="651.66" y2="108.5" stroke="#888" stroke-width="1" />
<text x="0" y="0" transform="translate(652.46,122.8) scale(0.935,1)" font-size="10.91" text-anchor="middle" fill="#111" font-weight="normal"  >12</text>
<line x1="669.6866666666666" y1="105.5" x2="669.6866666666666" y2="108.5" stroke="#888" stroke-width="1" />
<text x="0" y="0" transform="translate(669.89,122.8) scale(0.935,1)" font-size="10.91" text-anchor="middle" fill="#111" font-weight="normal"  >14</text>
<rect x="543.5" y="127.2" width="135.2" height="102.8" fill="none" stroke="#999" stroke-width="1"/>
<line x1="540.5" y1="230.0" x2="543.5" y2="230.0" stroke="#888" stroke-width="1" />
<text x="0" y="0" transform="translate(537.5,236.0) scale(0.935,1)" font-size="10.91" text-anchor="end" fill="#111" font-weight="normal"  >1</text>
<line x1="540.5" y1="209.44" x2="543.5" y2="209.44" stroke="#888" stroke-width="1" />
<text x="0" y="0" transform="translate(537.5,215.44) scale(0.935,1)" font-size="10.91" text-anchor="end" fill="#111" font-weight="normal"  >2</text>
<line x1="540.5" y1="188.88" x2="543.5" y2="188.88" stroke="#888" stroke-width="1" />
<text x="0" y="0" transform="translate(537.5,194.88) scale(0.935,1)" font-size="10.91" text-anchor="end" fill="#111" font-weight="normal"  >3</text>
<line x1="540.5" y1="168.32" x2="543.5" y2="168.32" stroke="#888" stroke-width="1" />
<text x="0" y="0" transform="translate(537.5,174.32) scale(0.935,1)" font-size="10.91" text-anchor="end" fill="#111" font-weight="normal"  >4</text>
<line x1="540.5" y1="147.76" x2="543.5" y2="147.76" stroke="#888" stroke-width="1" />
<text x="0" y="0" transform="translate(537.5,153.76) scale(0.935,1)" font-size="10.91" text-anchor="end" fill="#111" font-weight="normal"  >5</text>
<line x1="540.5" y1="127.2" x2="543.5" y2="127.2" stroke="#888" stroke-width="1" />
<text x="0" y="0" transform="translate(537.5,133.2) scale(0.935,1)" font-size="10.91" text-anchor="end" fill="#111" font-weight="normal"  >6</text>
<line x1="543.5" y1="230" x2="543.5" y2="233" stroke="#888" stroke-width="1" />
<text x="0" y="0" transform="translate(545.5,247.3) scale(0.935,1)" font-size="10.91" text-anchor="middle" fill="#111" font-weight="normal"  >0</text>
<line x1="561.5266666666666" y1="230" x2="561.5266666666666" y2="233" stroke="#888" stroke-width="1" />
<text x="0" y="0" transform="translate(562.33,247.3) scale(0.935,1)" font-size="10.91" text-anchor="middle" fill="#111" font-weight="normal"  >2</text>
<line x1="579.5533333333333" y1="230" x2="579.5533333333333" y2="233" stroke="#888" stroke-width="1" />
<text x="0" y="0" transform="translate(580.35,247.3) scale(0.935,1)" font-size="10.91" text-anchor="middle" fill="#111" font-weight="normal"  >4</text>
<line x1="597.58" y1="230" x2="597.58" y2="233" stroke="#888" stroke-width="1" />
<text x="0" y="0" transform="translate(598.38,247.3) scale(0.935,1)" font-size="10.91" text-anchor="middle" fill="#111" font-weight="normal"  >6</text>
<line x1="615.6066666666667" y1="230" x2="615.6066666666667" y2="233" stroke="#888" stroke-width="1" />
<text x="0" y="0" transform="translate(616.41,247.3) scale(0.935,1)" font-size="10.91" text-anchor="middle" fill="#111" font-weight="normal"  >8</text>
<line x1="633.6333333333333" y1="230" x2="633.6333333333333" y2="233" stroke="#888" stroke-width="1" />
<text x="0" y="0" transform="translate(634.43,247.3) scale(0.935,1)" font-size="10.91" text-anchor="middle" fill="#111" font-weight="normal"  >10</text>
<line x1="651.66" y1="230" x2="651.66" y2="233" stroke="#888" stroke-width="1" />
<text x="0" y="0" transform="translate(652.46,247.3) scale(0.935,1)" font-size="10.91" text-anchor="middle" fill="#111" font-weight="normal"  >12</text>
<line x1="669.6866666666666" y1="230" x2="669.6866666666666" y2="233" stroke="#888" stroke-width="1" />
<text x="0" y="0" transform="translate(669.89,247.3) scale(0.935,1)" font-size="10.91" text-anchor="middle" fill="#111" font-weight="normal"  >14</text>
<rect x="543.5" y="255.6" width="135.2" height="102.20000000000002" fill="none" stroke="#999" stroke-width="1"/>
<line x1="540.5" y1="357.8" x2="543.5" y2="357.8" stroke="#888" stroke-width="1" />
<text x="0" y="0" transform="translate(537.5,363.8) scale(0.935,1)" font-size="10.91" text-anchor="end" fill="#111" font-weight="normal"  >1</text>
<line x1="540.5" y1="337.36" x2="543.5" y2="337.36" stroke="#888" stroke-width="1" />
<text x="0" y="0" transform="translate(537.5,343.36) scale(0.935,1)" font-size="10.91" text-anchor="end" fill="#111" font-weight="normal"  >2</text>
<line x1="540.5" y1="316.92" x2="543.5" y2="316.92" stroke="#888" stroke-width="1" />
<text x="0" y="0" transform="translate(537.5,322.92) scale(0.935,1)" font-size="10.91" text-anchor="end" fill="#111" font-weight="normal"  >3</text>
<line x1="540.5" y1="296.48" x2="543.5" y2="296.48" stroke="#888" stroke-width="1" />
<text x="0" y="0" transform="translate(537.5,302.48) scale(0.935,1)" font-size="10.91" text-anchor="end" fill="#111" font-weight="normal"  >4</text>
<line x1="540.5" y1="276.03999999999996" x2="543.5" y2="276.03999999999996" stroke="#888" stroke-width="1" />
<text x="0" y="0" transform="translate(537.5,282.03999999999996) scale(0.935,1)" font-size="10.91" text-anchor="end" fill="#111" font-weight="normal"  >5</text>
<line x1="540.5" y1="255.6" x2="543.5" y2="255.6" stroke="#888" stroke-width="1" />
<text x="0" y="0" transform="translate(537.5,261.6) scale(0.935,1)" font-size="10.91" text-anchor="end" fill="#111" font-weight="normal"  >6</text>
<line x1="543.5" y1="357.8" x2="543.5" y2="360.8" stroke="#888" stroke-width="1" />
<text x="0" y="0" transform="translate(545.5,375.1) scale(0.935,1)" font-size="10.91" text-anchor="middle" fill="#111" font-weight="normal"  >0</text>
<line x1="562.8142857142857" y1="357.8" x2="562.8142857142857" y2="360.8" stroke="#888" stroke-width="1" />
<text x="0" y="0" transform="translate(563.61,375.1) scale(0.935,1)" font-size="10.91" text-anchor="middle" fill="#111" font-weight="normal"  >2</text>
<line x1="582.1285714285714" y1="357.8" x2="582.1285714285714" y2="360.8" stroke="#888" stroke-width="1" />
<text x="0" y="0" transform="translate(582.93,375.1) scale(0.935,1)" font-size="10.91" text-anchor="middle" fill="#111" font-weight="normal"  >4</text>
<line x1="601.4428571428572" y1="357.8" x2="601.4428571428572" y2="360.8" stroke="#888" stroke-width="1" />
<text x="0" y="0" transform="translate(602.24,375.1) scale(0.935,1)" font-size="10.91" text-anchor="middle" fill="#111" font-weight="normal"  >6</text>
<line x1="620.7571428571429" y1="357.8" x2="620.7571428571429" y2="360.8" stroke="#888" stroke-width="1" />
<text x="0" y="0" transform="translate(621.56,375.1) scale(0.935,1)" font-size="10.91" text-anchor="middle" fill="#111" font-weight="normal"  >8</text>
<line x1="640.0714285714286" y1="357.8" x2="640.0714285714286" y2="360.8" stroke="#888" stroke-width="1" />
<text x="0" y="0" transform="translate(640.87,375.1) scale(0.935,1)" font-size="10.91" text-anchor="middle" fill="#111" font-weight="normal"  >10</text>
<line x1="659.3857142857142" y1="357.8" x2="659.3857142857142" y2="360.8" stroke="#888" stroke-width="1" />
<text x="0" y="0" transform="translate(660.19,375.1) scale(0.935,1)" font-size="10.91" text-anchor="middle" fill="#111" font-weight="normal"  >12</text>
<line x1="678.7" y1="357.8" x2="678.7" y2="360.8" stroke="#888" stroke-width="1" />
<text x="0" y="0" transform="translate(678.9,375.1) scale(0.935,1)" font-size="10.91" text-anchor="middle" fill="#111" font-weight="normal"  >14</text>
<text x="0" y="0" transform="translate(525.8,178) rotate(-90) scale(1,0.97)" font-size="12.2" text-anchor="middle" fill="#111" font-weight="normal"  >R + ΔR / Å</text>
<text x="0" y="0" transform="translate(589.4,390.6) scale(0.935,1)" font-size="12.09" text-anchor="start" fill="#111" font-weight="normal"  >K / Å<tspan font-size="8.02" dy="-4">−1</tspan></text>
<text x="0" y="0" transform="translate(553.8,21.7) scale(0.935,1)" font-size="11.98" text-anchor="start" fill="#f0f0f0" font-weight="normal"  >PtO<tspan font-size="7.27" dy="3">2</tspan></text>
<text x="0" y="0" transform="translate(552.5,146.7) scale(0.935,1)" font-size="11.98" text-anchor="start" fill="#f0f0f0" font-weight="normal"  >Pt foil</text>
<text x="0" y="0" transform="translate(553.3,274.1) scale(0.935,1)" font-size="11.98" text-anchor="start" fill="#f0f0f0" font-weight="normal"  >Pt-RuO<tspan font-size="7.27" dy="3">2</tspan></text>
<text x="0" y="0" transform="translate(592.9,99.8) scale(0.935,1)" font-size="12.30" text-anchor="start" fill="#111" font-weight="normal"  >Pt-O</text>
<text x="0" y="0" transform="translate(636.2,202.8) scale(0.935,1)" font-size="12.30" text-anchor="start" fill="#111" font-weight="normal"  >Pt-Pt</text>
<text x="0" y="0" transform="translate(638.8,316.6) scale(0.935,1)" font-size="12.30" text-anchor="start" fill="#111" font-weight="normal"  >Pt-Ru</text>
<text x="0" y="0" transform="translate(599,351.4) scale(0.935,1)" font-size="12.30" text-anchor="start" fill="#111" font-weight="normal"  >Pt-O</text>
</g>
<g id="xtal">
<defs>
<radialGradient id="gy" cx="0.35" cy="0.35" r="0.7"><stop offset="0" stop-color="#f8dc90"/><stop offset="0.5" stop-color="#e8b040"/><stop offset="1" stop-color="#c08820"/></radialGradient>
<radialGradient id="gb" cx="0.35" cy="0.35" r="0.7"><stop offset="0" stop-color="#e0f2fc"/><stop offset="0.5" stop-color="#8ccaf0"/><stop offset="1" stop-color="#5aa0d0"/></radialGradient>
</defs>
<g stroke-width="0.8" fill="none">
<line x1="431" y1="6.2" x2="501" y2="6.2" stroke="#cde6f5"/>
<line x1="437.5" y1="3" x2="437.5" y2="31" stroke="#cde6f5"/>
<line x1="497" y1="3" x2="497" y2="56" stroke="#cde6f5"/>
<line x1="434.4" y1="9" x2="434.4" y2="46" stroke="#f8dcb0"/>
<line x1="495.5" y1="9" x2="495.5" y2="56" stroke="#f8dcb0"/>
<line x1="482.5" y1="6.4" x2="502.4" y2="6.4" stroke="#f8dcb0"/>
<line x1="461.7" y1="50" x2="461.7" y2="57" stroke="#f8dcb0"/>
<line x1="460" y1="55" x2="474" y2="43" stroke="#d8ecf8"/>
<line x1="460" y1="43" x2="474" y2="55" stroke="#d8ecf8"/>
</g>
<g stroke-width="2.3" stroke-linecap="butt">
<line x1="455.6" y1="6.2" x2="461.3" y2="13" stroke="#e0a838"/><line x1="461.3" y1="13" x2="467.1" y2="19.9" stroke="#d84848"/>
<line x1="478.7" y1="6.2" x2="472.9" y2="13" stroke="#e0a838"/><line x1="472.9" y1="13" x2="467.1" y2="19.9" stroke="#d84848"/>
<line x1="455.3" y1="35.5" x2="461.2" y2="27.7" stroke="#e0a838"/><line x1="461.2" y1="27.7" x2="467.1" y2="19.9" stroke="#d84848"/>
<line x1="436.4" y1="33.8" x2="445.8" y2="34.6" stroke="#8cc8ec"/><line x1="445.8" y1="34.6" x2="455.3" y2="35.5" stroke="#e0a838"/>
<line x1="497" y1="34" x2="487.5" y2="35" stroke="#8cc8ec"/><line x1="487.5" y1="35" x2="478" y2="36" stroke="#e0a838"/>
<line x1="455.3" y1="35.5" x2="460.9" y2="42.2" stroke="#e0a838"/><line x1="460.9" y1="42.2" x2="466.6" y2="49" stroke="#8cc8ec"/>
<line x1="478" y1="36" x2="472.3" y2="42.5" stroke="#e0a838"/><line x1="467.1" y1="19.9" x2="471.5" y2="26.2" stroke="#d84848"/><line x1="472.3" y1="42.5" x2="466.6" y2="49" stroke="#8cc8ec"/>
</g>
<circle cx="455.6" cy="6.2" r="3.3" fill="url(#gy)"/>
<circle cx="478.7" cy="6.2" r="3.3" fill="url(#gy)"/>
<circle cx="455.3" cy="35.5" r="3.3" fill="url(#gy)"/>
<circle cx="478" cy="36" r="3.3" fill="url(#gy)"/>
<circle cx="436.4" cy="33.8" r="3.1" fill="url(#gb)"/>
<circle cx="497" cy="34" r="3.1" fill="url(#gb)"/>
<circle cx="466.6" cy="49" r="3.1" fill="url(#gb)"/>
<line x1="467.1" y1="20" x2="437" y2="33.6" stroke="#f5922a" stroke-width="1.1" stroke-dasharray="2.2,1.4"/>
<line x1="467.1" y1="20" x2="467.1" y2="48" stroke="#22b055" stroke-width="1.3" stroke-dasharray="2.2,1.4"/>
<line x1="467.1" y1="20" x2="477.5" y2="35.6" stroke="#555" stroke-width="1" stroke-dasharray="1.8,1.3"/>
<text x="449.2" y="29" font-size="11" fill="#f5922a" font-style="italic">3</text>
<text x="475.4" y="29" font-size="11" fill="#555">1</text>
<text x="461.6" y="37.5" font-size="10.5" fill="#22b055">2</text>
<text x="461.6" y="42.3" font-size="10.5" fill="#22b055">4</text>
</g>
</svg>
<script>
(function(){
var CM=[[0,0,0,0],[0.3,125,0,0],[0.5,255,0,0],[0.6,255,140,0],[0.69,255,250,0],[0.74,255,255,90],[0.8,255,255,200],[0.86,255,255,255],[0.92,160,200,246],[1.0,50,120,225]];
var LUT=[];
for(var i=0;i<256;i++){ var v=i/255, c;
  for(var j=1;j<CM.length;j++){ if(v<=CM[j][0]){ var a=CM[j-1],b=CM[j],t=(v-a[0])/(b[0]-a[0]); c=[a[1]+(b[1]-a[1])*t,a[2]+(b[2]-a[2])*t,a[3]+(b[3]-a[3])*t]; break; } }
  if(!c) c=CM[CM.length-1].slice(1); LUT.push(c); }
function smoothPath(ctx,pts,ox,oy){
  var n=pts.length; ctx.beginPath();
  var mx=(pts[n-1][0]+pts[0][0])/2-ox, my=(pts[n-1][1]+pts[0][1])/2-oy; ctx.moveTo(mx,my);
  for(var i=0;i<n;i++){ var p=pts[i], q=pts[(i+1)%n]; ctx.quadraticCurveTo(p[0]-ox,p[1]-oy,(p[0]+q[0])/2-ox,(p[1]+q[1])/2-oy); }
  ctx.closePath();
}
function g(v){ var c=Math.round(v*255); return 'rgb('+c+','+c+','+c+')'; }
function build(id, ox, oy, layers){
  var cv=document.getElementById(id), W=cv.width, H=cv.height, ctx=cv.getContext('2d');
  var m=document.createElement('canvas'); m.width=W; m.height=H; var mc=m.getContext('2d');
  mc.fillStyle='#000'; mc.fillRect(0,0,W,H);
  for(var L=0;L<layers.length;L++){
    var lay=layers[L];
    var t=document.createElement('canvas'); t.width=W+40; t.height=H+40; var tc=t.getContext('2d');
    tc.translate(20,20);
    for(var s=0;s<lay.shapes.length;s++){
      var sh=lay.shapes[s]; tc.fillStyle=g(sh[1]);
      if(sh[0]=='p'){ smoothPath(tc,sh[2],ox,oy); tc.fill(); var gr=(sh[3]!==undefined&&sh[3]!==null)?sh[3]:(lay.grow||0); if(gr>0){ tc.strokeStyle=g(sh[1]); tc.lineWidth=2*gr; tc.lineJoin='round'; tc.stroke(); }
        var sk=(sh[4]!==undefined)?sh[4]:(lay.shrink||0); if(sk>0){ tc.save(); tc.globalCompositeOperation='destination-out'; tc.strokeStyle='#000'; tc.lineWidth=2*sk; tc.lineJoin='round'; tc.stroke(); tc.restore(); } }
      else if(sh[0]=='r'){ tc.fillRect(sh[2][0]-ox,sh[2][1]-oy,sh[2][2],sh[2][3]); }
      else if(sh[0]=='e'){ tc.beginPath(); tc.ellipse(sh[2][0]-ox,sh[2][1]-oy,sh[2][2],sh[2][3],sh[2][4]||0,0,Math.PI*2); tc.fill(); }
    }
    mc.filter = lay.blur? 'blur('+lay.blur+'px)':'none';
    mc.drawImage(t,-20,-20);
    mc.filter='none';
  }
  var src=mc.getImageData(0,0,W,H).data, img=ctx.createImageData(W,H), d=img.data;
  for(var i=0;i<W*H;i++){ var c=LUT[src[i*4]]; d[i*4]=c[0]; d[i*4+1]=c[1]; d[i*4+2]=c[2]; d[i*4+3]=255; }
  ctx.putImageData(img,0,0);
}
// ---------- heatmap 1: PtO2 ----------
build('h1',544,3,[
 {blur:5, shapes:[
  ['r',0.2,[572,-10,12,40]],['r',0.32,[572,30,12,20]],
  ['r',0.26,[587,-10,15,40]],['r',0.38,[587,30,15,20]],
  ['r',0.3,[605,-10,8,40]],['r',0.38,[605,30,8,20]],
  ['r',0.42,[614,-10,8,60]],
  ['r',0.47,[625,-10,9,60]],
  ['r',0.42,[636,-10,9,60]],
  ['r',0.3,[590,-10,58,17]],
  ['r',0.5,[648,-10,16,115]],
  ['r',0.5,[664,-10,5,115]],['r',0.3,[669,-10,4,115]],['r',0.12,[673,-10,3,115]],
  ['p',0.5,[[574,42],[664,40],[664,110],[562,110],[560,85],[565,60]]],
  ['p',0.36,[[540,92],[556,90],[564,92],[564,115],[540,115]]],
  ['e',0.15,[557,59,5,6]]
 ]},
 {blur:2.6, shapes:[
  ['e',0.15,[584.4,18,3.5,22]],
  ['e',0.22,[604.4,25,3.5,12]],
  ['e',0.22,[612.9,14,3.5,16]],
  ['e',0.22,[623.6,33,3.8,10]],
  ['e',0.24,[635,21,3.5,13]],
  ['e',0.22,[645,20,3.6,18]],
  ['e',0.56,[658,20,2,20]]
 ]},
 {blur:1.8, shapes:[
  ['e',0.0,[584.4,18,1.2,18]],
  ['e',0.0,[604.4,27,1.2,7]],
  ['e',0.0,[612.9,14,1.2,12]],
  ['e',0.0,[623.6,35,1.4,5.5]],
  ['e',0.02,[635,22,1.2,8]],
  ['e',0.0,[645,22,1.3,13]]
 ]},
 {blur:2.1, shapes:[
  ['p',0.72,[[562.6,96.4],[566,92.5],[570.5,90.3],[581,85.9],[590,83.6],[598,82.5],[604,81.5],[605.8,76],[607.3,71],[609,66],[611,61.5],[613.5,57.5],[618,54.7],[626.5,51.2],[636.3,48.3],[646.2,46.2],[651.5,43],[653.3,37],[655,29],[657,22.5],[659.3,27],[660.6,35],[661.6,49],[663,63],[663.5,77],[663.2,86],[660,94],[654.6,97.3],[638.8,99.9],[612.6,100.8],[586.3,101.7],[570.5,100.4],[565,99]]],
  ['p',0.5,[[608,76.5],[609.3,72.8],[614,70.8],[625,70.4],[638,70.8],[643.5,73.3],[645.2,77],[643.5,81.2],[636,83.2],[620,83.6],[611,82.8],[608.6,80.2]]]
 ]},
 {blur:1.6, grow:1.2, shapes:[
  ['p',0.86,[[575.8,94.6],[579,91.8],[586.3,89.4],[595,87.8],[603.8,86.8],[615,87],[626.6,87.6],[636,88],[640.6,88.5],[642.3,91.1],[637,94.6],[625,96.2],[612.6,97.3],[600,97.6],[586.3,97.3],[579,96.3]]],
  ['p',0.86,[[620,63.5],[625,59],[632.1,56],[643.4,52.3],[653.2,51.5],[658.6,55.5],[660.5,63],[659,70],[655,75.5],[648,73.5],[638,70],[630,68.5],[624,67.5]]],
  ['p',0.8,[[615,62],[619,59.5],[623,60],[623,66],[619,67],[615,65.5]]]
 ]},
 {blur:1.6, shapes:[
  ['p',1.0,[[582.8,93.8],[588,91.5],[595,90.6],[605,90.2],[615,90.5],[624,91.5],[628.3,92.9],[622,94.8],[610,96],[603.8,96.4],[592,96],[586,95.2]]],
  ['p',0.93,[[638,59],[645,56.5],[651,56.5],[657,58],[655.5,65.5],[651.5,71],[648.5,72.5],[643.5,67.5]]],['e',1.0,[649.5,63,4.2,4]]
 ]},
 {blur:1.6, shapes:[
  ['e',0.25,[598,64.3,4.5,4.5]],
  ['e',0.25,[585.9,77.1,4.5,4.5]],
  ['e',0.3,[617.9,77.1,6,4.6]],
  ['e',0.3,[635.7,77.1,6,4.6]]
 ]},
 {blur:1.1, shapes:[
  ['e',0.0,[598,64.3,2,2]],
  ['e',0.0,[585.9,77.1,2,2]],
  ['e',0.0,[550.1,83.6,2.5,2.5]],
  ['e',0.0,[617.9,77.1,1.8,1.8]],
  ['e',0.0,[635.7,77.1,1.8,1.8]],
  ['e',0.0,[624,100.4,8.5,0.9]]
 ]}
]);
// ---------- heatmap 2: Pt foil ----------
build('h2',544,127,[
 {blur:5, shapes:[
  ['p',0.1,[[572,120],[600,120],[598,215],[568,215]]],
  ['p',0.26,[[590,120],[610,120],[604,180],[592,205],[582,205],[585,160]]],
  ['p',0.5,[[606,120],[672,120],[672,208],[598,208],[601,180],[604,150]]],
  ['r',0.45,[672,120,4,110]],['r',0.28,[676,120,5,110]],
  ['p',0.5,[[576,205],[590,200],[604,186],[640,182],[674,180],[676,205],[674,210],[620,210],[592,209]]],
  ['r',0.2,[556,212,130,25]]
 ]},
 {blur:2.6, shapes:[
  ['e',0.28,[609.5,142,3.8,20]],
  ['e',0.22,[621.2,160,5.5,14]],
  ['e',0.22,[631.5,168,5.5,11]],
  ['e',0.2,[650.5,140,5.5,32]],
  ['e',0.22,[655,166,9.5,9]],
  ['e',0.1,[598.4,138,4,14]]
 ]},
 {blur:1.7, shapes:[
  ['e',0.0,[609.5,150.5,1.5,7]],
  ['e',0.0,[621.2,165.3,1.6,5]],
  ['e',0.0,[631.5,171.5,1.8,4]],
  ['e',0.0,[650.8,138,1.6,9]],
  ['e',0.0,[650.1,166,1.6,4]],
  ['e',0.0,[659,166,1.6,4]],
  ['e',0.05,[579.4,170.3,2.5,3]],
  ['e',0.05,[600.5,177,2.5,3]],
  ['e',0.05,[589,188.1,2.5,3]],
  ['e',0.1,[636,217.5,12,2]],['e',0.12,[600,221.5,26,2.2]]
 ]},
 {blur:1.9, shrink:1.3, shapes:[
  ['p',0.72,[[597,204.2],[599,200],[602.3,196.5],[609.9,187.3],[617.6,183.5],[626.8,181.5],[635.9,181.5],[642.1,180],[648.2,178.5],[655.8,178.5],[662,176],[664.5,165],[666,156],[669,153],[672.5,158],[674.2,187.3],[673.5,202.6],[669.6,208],[651.3,208.2],[628.3,207.5],[605.3,206.8],[597.7,206.5]]]
 ]},
 {blur:1.6, grow:1.2, shapes:[
  ['p',0.86,[[608.4,198],[611,194],[616,191.1],[628.3,188.8],[643.6,188.1],[658.9,187.3],[666.6,188.8],[669.2,195],[666.6,201.9],[651.3,203.4],[628.3,202.6],[613,201.9]]]
 ]},
 {blur:1.8, shapes:[
  ['p',0.94,[[620,196],[630,192],[645,190.8],[660,191.2],[666,195],[662,200.5],[645,201.5],[630,200.5]]],
  ['e',1.0,[653,196.5,10,3.2]]
 ]},
 {blur:1.1, shapes:[
  ['e',0.02,[631.3,209,2.5,1.2]]
 ]}
]);
// ---------- heatmap 3: Pt-RuO2 ----------
build('h3',544,256,[
 {blur:4, shapes:[
  ['r',0.04,[571,250,14,40]],['r',0.12,[571,290,14,20]],
  ['r',0.1,[588,250,12,30]],['r',0.22,[588,280,12,20]],
  ['r',0.28,[600,250,10,30]],['r',0.42,[600,280,10,20]],
  ['r',0.5,[610,250,69,50]],
  ['p',0.5,[[600,294],[610,286],[679,282],[679,360],[570,360],[572,332],[590,306]]],
  ['r',0.18,[540,300,26,60]],
  ['r',0.3,[540,355,140,6]]
 ]},
 {blur:2.6, shapes:[
  ['e',0.24,[619.2,266,5.8,26]],
  ['e',0.24,[631.7,268,5.5,26]],
  ['e',0.22,[650.5,266,5.5,26]],
  ['e',0.24,[664,269,5.8,26]],
  ['e',0.1,[650.3,258,3,4]],
  ['e',0.12,[603,256,9,9]]
 ]},
 {blur:1.7, shapes:[
  ['e',0.02,[585.9,281.5,1.4,7]],
  ['e',0.0,[619.4,279.5,1.5,6]],
  ['e',0.0,[631.7,284,1.5,6]],
  ['e',0.0,[650.2,283,1.5,6]],
  ['e',0.0,[663.9,285,1.5,6]],
  ['e',0.05,[558.5,331.9,2.5,2.5]]
 ]},
 {blur:1.6, shapes:[
  ['p',0.72,[[611,302],[624,301.5],[633,298],[638.6,294],[643.5,294],[650,298.5],[667.1,298.7],[672.9,295.9],[676,300],[676.5,320],[675,338],[671.8,342.6],[668,348],[664.5,349.9],[637.1,351.7],[609.7,352.6],[582.4,350.8],[567.8,349],[562.3,346.2],[565,343.2],[570,341],[580,338.2],[590,336.2],[600,334.8],[609.5,333.6],[612.5,329],[611,320]]],
  ['p',0.8,[[617,306],[626,303.5],[634,307],[633,316],[624,318],[616,314]]],
  ['p',0.5,[[611,321],[620,321.5],[631.4,322.6],[638.6,318.5],[650,317.5],[660,319.5],[667,322],[671,326],[671,331],[664.3,334.5],[646,333.8],[628,332.5],[613,331.5]]]
 ]},
 {blur:1.6, grow:1.2, shapes:[
  ['p',0.86,[[576,345.3],[581,342.6],[591.5,341.2],[609.7,339.5],[631.6,339.5],[649.9,341.2],[655,344.4],[650,347],[637.1,348.6],[609.7,349.9],[587.8,348.9],[579.5,347.6]]]
 ]},
 {blur:1.6, shapes:[
  ['p',0.95,[[581.5,345.3],[591.5,342.9],[609.7,341.6],[628,342.4],[636.5,345.3],[625,347.8],[609.7,348.8],[591.5,347.7]]],
  ['e',1.0,[605,345.2,12,2.6]]
 ]},
 {blur:1.6, shapes:[
  ['e',0.25,[592.1,325.7,4.5,4]],
  ['e',0.25,[602.6,321.5,4,3.5]],
  ['e',0.25,[624.4,330.6,5,4]],
  ['e',0.25,[646.4,324.7,5,4]],
  ['e',0.25,[655.7,328.3,5,4]]
 ]},
 {blur:1.1, shapes:[
  ['e',0.0,[592.1,325.7,2,2]],
  ['e',0.0,[602.6,321.5,1.8,1.8]],
  ['e',0.0,[624.4,330.6,2,2]],
  ['e',0.0,[646.4,324.7,1.8,1.8]],
  ['e',0.0,[655.7,328.3,1.8,1.8]]
 ]}
]);
})();
</script>

</body></html>
